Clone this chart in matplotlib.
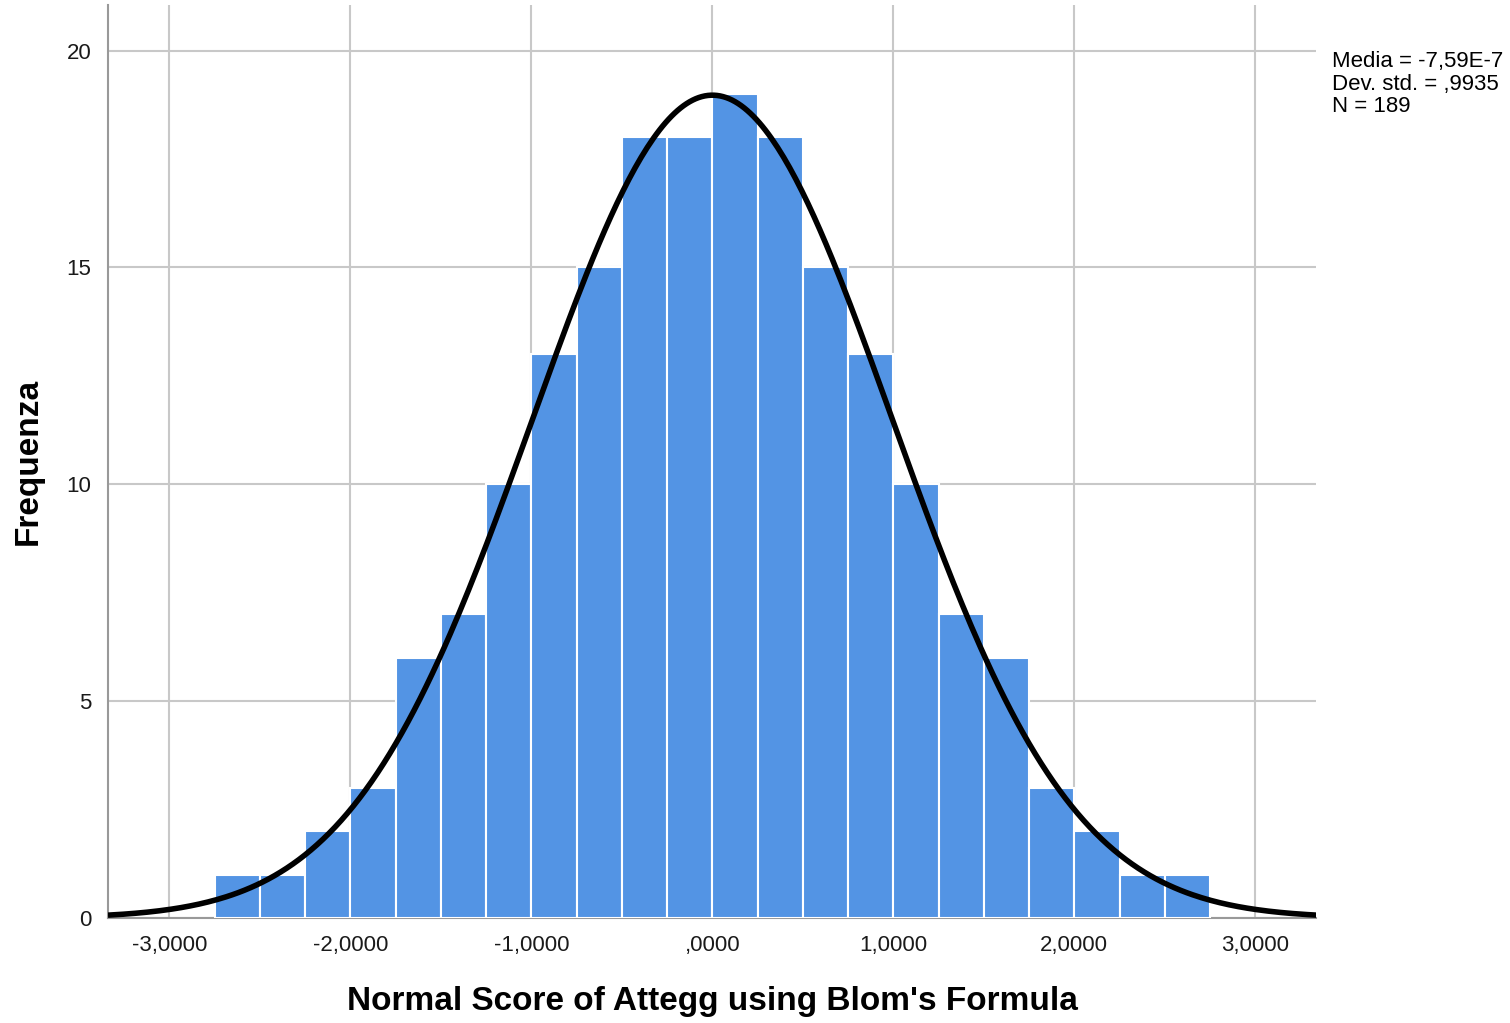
#Histogram with fitted normal curve (SPSS style)

from matplotlib import pyplot as plt
import numpy as np

plt.rcParams['font.family'] = ['Liberation Sans', 'DejaVu Sans']

#bin edges and counts
bin_edges = [-2.75, -2.5, -2.25, -2.0, -1.75, -1.5, -1.25, -1.0, -0.75, -0.5, -0.25,
             0.0, 0.25, 0.5, 0.75, 1.0, 1.25, 1.5, 1.75, 2.0, 2.25, 2.5, 2.75]
counts = [1, 1, 2, 3, 6, 7, 10, 13, 15, 18, 18,
          19, 18, 15, 13, 10, 7, 6, 3, 2, 1, 1]

#summary statistics shown on the chart
mean = -7.59e-7
std = 0.9935
n = 189

x_ticks = [-3, -2, -1, 0, 1, 2, 3]
x_labels = ['-3,0000', '-2,0000', '-1,0000', ',0000', '1,0000', '2,0000', '3,0000']
y_ticks = [0, 5, 10, 15, 20]

fig = plt.figure(figsize=(15.1, 10.23), dpi=100)
ax = fig.add_axes([0.0715, 0.1026, 0.80, 0.8924])

lefts = np.array(bin_edges[:-1])
widths = np.diff(bin_edges)
ax.bar(lefts, counts, width=widths, align='edge', color='#5394E4',
       edgecolor='white', linewidth=1.5, zorder=2)

#normal curve scaled to the histogram
bw = widths[0]
xs = np.linspace(-3.34, 3.34, 400)
ys = n * bw * np.exp(-0.5 * ((xs - mean) / std) ** 2) / (std * np.sqrt(2 * np.pi))
ax.plot(xs, ys, color='black', linewidth=4, zorder=3, solid_capstyle='butt')

ax.set_xlim(-3.34, 3.335)
ax.set_ylim(0, 21.05)
ax.set_xticks(x_ticks)
ax.set_xticklabels(x_labels)
ax.set_yticks(y_ticks)
ax.tick_params(length=0, labelsize=16, colors='#1a1a1a', pad=12)
ax.tick_params(axis='y', pad=12)

ax.grid(True, color='#c8c8c8', linewidth=1.5, zorder=0)
ax.set_axisbelow(True)
for side in ['top', 'right']:
    ax.spines[side].set_visible(False)
for side in ['left', 'bottom']:
    ax.spines[side].set_color('#999999')
    ax.spines[side].set_linewidth(1.5)
    ax.spines[side].set_zorder(1)

ax.set_xlabel("Normal Score of Attegg using Blom's Formula", fontsize=24,
              fontweight='bold', labelpad=22)
ax.set_ylabel('Frequenza', fontsize=24, fontweight='bold', labelpad=16)

fig.text(0.882, 0.950, 'Media = -7,59E-7\nDev. std. = ,9935\nN = 189',
         fontsize=16, va='top', ha='left', linespacing=1.1)

fig.savefig('out.png', dpi=100)
